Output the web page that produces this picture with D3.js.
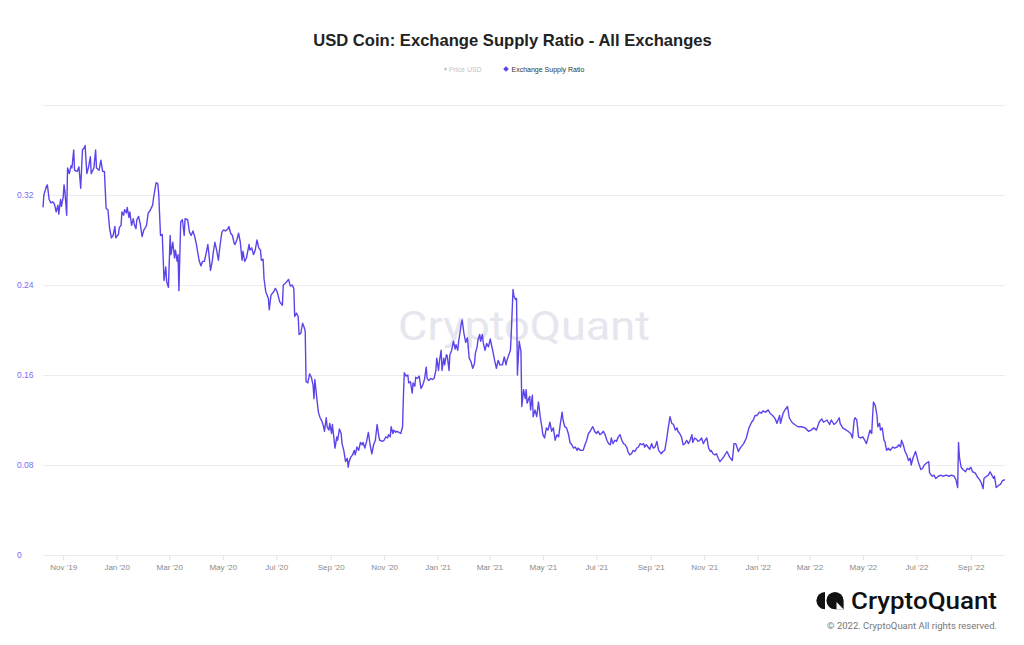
<!DOCTYPE html>
<html>
<head>
<meta charset="utf-8">
<script src="https://cdn.jsdelivr.net/npm/d3@7"></script>
<style>
  html, body { margin: 0; padding: 0; background: #ffffff; }
  svg { display: block; }
</style>
</head>
<body>
<svg id="chart" width="1024" height="645"></svg>
<script>
const title = "USD Coin: Exchange Supply Ratio - All Exchanges";
const legendLabels = ["Price USD", "Exchange Supply Ratio"];
const yTickValues = [0, 0.08, 0.16, 0.24, 0.32];
const yGridValues = [0, 0.08, 0.16, 0.24, 0.32, 0.40];
const yDomain = [0, 0.40];

const dates = [
"2019-10-09","2019-10-10","2019-10-13","2019-10-14","2019-10-16","2019-10-18","2019-10-20","2019-10-22","2019-10-24","2019-10-26","2019-10-27","2019-10-29","2019-10-30","2019-11-01","2019-11-02","2019-11-03","2019-11-05","2019-11-06","2019-11-08","2019-11-10","2019-11-11","2019-11-13","2019-11-14","2019-11-17","2019-11-19","2019-11-21","2019-11-23","2019-11-25","2019-11-26","2019-11-28","2019-11-30","2019-12-02","2019-12-03","2019-12-06","2019-12-08","2019-12-09","2019-12-12","2019-12-14","2019-12-16","2019-12-18","2019-12-20","2019-12-22","2019-12-24","2019-12-26","2019-12-28","2019-12-30","2019-12-31",
"2020-01-03","2020-01-04","2020-01-06","2020-01-07","2020-01-09","2020-01-10","2020-01-12","2020-01-13","2020-01-15","2020-01-16","2020-01-18","2020-01-20","2020-01-21","2020-01-23","2020-01-24","2020-01-26","2020-01-28","2020-01-30","2020-02-01","2020-02-02","2020-02-04","2020-02-06","2020-02-08","2020-02-11","2020-02-12","2020-02-13","2020-02-15","2020-02-17","2020-02-18","2020-02-20","2020-02-22","2020-02-24","2020-02-26","2020-02-27","2020-02-29",
"2020-03-02","2020-03-03","2020-03-05","2020-03-07","2020-03-08","2020-03-10","2020-03-11","2020-03-12","2020-03-14","2020-03-16","2020-03-18","2020-03-19","2020-03-22","2020-03-24","2020-03-26","2020-03-28","2020-03-30","2020-04-01","2020-04-02","2020-04-04","2020-04-06","2020-04-08","2020-04-10","2020-04-12","2020-04-14","2020-04-15","2020-04-17","2020-04-19","2020-04-20","2020-04-22","2020-04-24","2020-04-26","2020-04-28","2020-04-30",
"2020-05-02","2020-05-04","2020-05-07","2020-05-08","2020-05-10","2020-05-12","2020-05-14","2020-05-15","2020-05-17","2020-05-19","2020-05-21","2020-05-23","2020-05-24","2020-05-26","2020-05-28","2020-05-31","2020-06-01","2020-06-03","2020-06-05","2020-06-07","2020-06-09","2020-06-11","2020-06-13","2020-06-14","2020-06-16","2020-06-17","2020-06-19","2020-06-20","2020-06-22","2020-06-23","2020-06-25","2020-06-28","2020-06-30","2020-07-02",
"2020-07-05","2020-07-08","2020-07-09","2020-07-12","2020-07-15","2020-07-17","2020-07-19","2020-07-21","2020-07-22","2020-07-24","2020-07-26","2020-07-27","2020-07-29","2020-07-31","2020-08-02","2020-08-03","2020-08-04","2020-08-06","2020-08-08","2020-08-10","2020-08-12","2020-08-13","2020-08-14","2020-08-16","2020-08-18","2020-08-20","2020-08-22","2020-08-24","2020-08-25","2020-08-27","2020-08-28","2020-08-30","2020-08-31",
"2020-09-02","2020-09-03","2020-09-05","2020-09-06","2020-09-08","2020-09-09","2020-09-11","2020-09-13","2020-09-14","2020-09-16","2020-09-18","2020-09-20","2020-09-21","2020-09-22","2020-09-24","2020-09-26","2020-09-28","2020-09-29","2020-10-01","2020-10-03","2020-10-05","2020-10-07","2020-10-08","2020-10-10","2020-10-12","2020-10-14","2020-10-16","2020-10-18","2020-10-20","2020-10-22","2020-10-24","2020-10-26","2020-10-27","2020-10-30",
"2020-11-01","2020-11-03","2020-11-05","2020-11-06","2020-11-08","2020-11-09","2020-11-11","2020-11-12","2020-11-14","2020-11-15","2020-11-18","2020-11-20","2020-11-22","2020-11-23","2020-11-24","2020-11-26","2020-11-28","2020-11-29","2020-12-01","2020-12-03","2020-12-04","2020-12-06","2020-12-07","2020-12-09","2020-12-11","2020-12-13","2020-12-15","2020-12-17","2020-12-19","2020-12-20","2020-12-22","2020-12-24","2020-12-26","2020-12-28","2020-12-30","2020-12-31",
"2021-01-02","2021-01-03","2021-01-05","2021-01-06","2021-01-08","2021-01-09","2021-01-11","2021-01-12","2021-01-14","2021-01-15","2021-01-17","2021-01-19","2021-01-21","2021-01-22","2021-01-24","2021-01-25","2021-01-27","2021-01-28","2021-01-29","2021-01-31","2021-02-02","2021-02-04","2021-02-06","2021-02-08","2021-02-10","2021-02-12","2021-02-13","2021-02-15","2021-02-16","2021-02-18","2021-02-19","2021-02-21","2021-02-22","2021-02-24","2021-02-26","2021-02-28",
"2021-03-02","2021-03-05","2021-03-07","2021-03-09","2021-03-11","2021-03-13","2021-03-16","2021-03-18","2021-03-20","2021-03-21","2021-03-25","2021-03-26","2021-03-28","2021-03-29","2021-03-31","2021-04-01","2021-04-02","2021-04-04","2021-04-06","2021-04-07","2021-04-09","2021-04-11","2021-04-12","2021-04-13","2021-04-16","2021-04-17","2021-04-19","2021-04-20","2021-04-22","2021-04-24","2021-04-26","2021-04-28","2021-04-30",
"2021-05-01","2021-05-03","2021-05-05","2021-05-07","2021-05-09","2021-05-11","2021-05-13","2021-05-15","2021-05-17","2021-05-19","2021-05-21","2021-05-23","2021-05-24","2021-05-26","2021-05-28","2021-05-30","2021-06-01","2021-06-03","2021-06-05","2021-06-07","2021-06-09","2021-06-10","2021-06-13","2021-06-16","2021-06-18","2021-06-20","2021-06-22","2021-06-24","2021-06-26","2021-06-27","2021-06-29",
"2021-07-01","2021-07-03","2021-07-05","2021-07-07","2021-07-09","2021-07-11","2021-07-13","2021-07-15","2021-07-17","2021-07-18","2021-07-20","2021-07-22","2021-07-24","2021-07-26","2021-07-28","2021-07-30","2021-08-01","2021-08-03","2021-08-05","2021-08-06","2021-08-08","2021-08-10","2021-08-12","2021-08-14","2021-08-16","2021-08-18","2021-08-20","2021-08-22","2021-08-24","2021-08-25","2021-08-27","2021-08-29","2021-08-31",
"2021-09-02","2021-09-04","2021-09-06","2021-09-08","2021-09-10","2021-09-12","2021-09-13","2021-09-15","2021-09-17","2021-09-19","2021-09-21","2021-09-23","2021-09-25","2021-09-27","2021-09-29","2021-10-01","2021-10-02","2021-10-04","2021-10-06","2021-10-08","2021-10-10","2021-10-12","2021-10-14","2021-10-16","2021-10-18","2021-10-19","2021-10-21","2021-10-23","2021-10-25","2021-10-27","2021-10-29","2021-10-31",
"2021-11-02","2021-11-04","2021-11-06","2021-11-08","2021-11-09","2021-11-11","2021-11-13","2021-11-15","2021-11-17","2021-11-19","2021-11-23","2021-11-27","2021-11-30","2021-12-03","2021-12-05","2021-12-07","2021-12-10","2021-12-12","2021-12-16","2021-12-19","2021-12-22","2021-12-25","2021-12-27","2021-12-29","2021-12-31",
"2022-01-03","2022-01-05","2022-01-07","2022-01-10","2022-01-13","2022-01-15","2022-01-18","2022-01-21","2022-01-23","2022-01-26","2022-01-27","2022-01-30","2022-02-01","2022-02-04","2022-02-06","2022-02-09","2022-02-12","2022-02-16","2022-02-20","2022-02-24","2022-02-28","2022-03-03","2022-03-06","2022-03-09","2022-03-12","2022-03-15","2022-03-17","2022-03-21","2022-03-24","2022-03-26","2022-03-29",
"2022-04-01","2022-04-04","2022-04-05","2022-04-08","2022-04-12","2022-04-14","2022-04-17","2022-04-19","2022-04-21","2022-04-22","2022-04-24","2022-04-26","2022-04-28","2022-05-01","2022-05-03","2022-05-05","2022-05-07","2022-05-09","2022-05-11","2022-05-12","2022-05-13","2022-05-15","2022-05-17","2022-05-18","2022-05-20","2022-05-21","2022-05-23","2022-05-25","2022-05-26","2022-05-28","2022-05-30",
"2022-06-01","2022-06-04","2022-06-06","2022-06-09","2022-06-11","2022-06-13","2022-06-14","2022-06-16","2022-06-18","2022-06-20","2022-06-22","2022-06-24","2022-06-25","2022-06-27","2022-06-30","2022-07-01","2022-07-03","2022-07-06","2022-07-08","2022-07-10","2022-07-13","2022-07-15","2022-07-16","2022-07-19","2022-07-21","2022-07-23","2022-07-26","2022-07-29","2022-07-31",
"2022-08-04","2022-08-07","2022-08-10","2022-08-13","2022-08-15","2022-08-17","2022-08-18","2022-08-19","2022-08-21","2022-08-23","2022-08-26","2022-08-28","2022-08-30","2022-09-01","2022-09-03","2022-09-06","2022-09-08","2022-09-11","2022-09-13","2022-09-15","2022-09-16","2022-09-19","2022-09-21","2022-09-23","2022-09-25","2022-09-27","2022-09-28","2022-09-30","2022-10-03","2022-10-05","2022-10-07","2022-10-10"
];

const ratio = [
.309,.320,.328,.329,.316,.313,.314,.312,.305,.311,.303,.316,.310,.318,.329,.323,.302,.344,.339,.346,.344,.360,.342,.341,.345,.326,.360,.362,.364,.339,.345,.354,.339,.344,.360,.344,.342,.351,.341,.341,.308,.307,.290,.282,.284,.292,.282,
.285,.291,.293,.305,.302,.307,.304,.309,.300,.305,.293,.299,.294,.290,.298,.301,.294,.283,.289,.290,.293,.304,.306,.311,.317,.322,.331,.330,.320,.284,.285,.244,.256,.243,.238,
.284,.267,.278,.264,.271,.261,.267,.235,.296,.298,.284,.299,.298,.287,.284,.288,.283,.276,.271,.262,.257,.261,.261,.268,.276,.269,.253,.261,.268,.278,.271,.262,.276,.287,
.289,.288,.290,.292,.286,.284,.277,.276,.280,.286,.278,.262,.270,.261,.264,.276,.271,.273,.267,.271,.280,.273,.271,.262,.263,.246,.234,.232,.228,.218,.231,.234,.237,.234,
.225,.222,.240,.242,.245,.239,.240,.237,.212,.215,.212,.196,.197,.206,.202,.199,.154,.153,.161,.158,.151,.139,.156,.141,.127,.122,.119,.114,.110,.122,.114,.111,.117,
.108,.116,.102,.095,.105,.102,.112,.108,.099,.093,.083,.086,.078,.083,.087,.089,.093,.089,.096,.093,.100,.098,.100,.095,.101,.109,.098,.090,.098,.102,.116,.105,.102,.101,
.102,.105,.104,.107,.105,.114,.108,.111,.109,.110,.109,.108,.114,.141,.162,.159,.160,.153,.154,.144,.153,.150,.158,.157,.159,.148,.151,.156,.167,.157,.155,.157,.156,.157,.164,.175,
.164,.172,.182,.164,.175,.169,.178,.177,.164,.178,.182,.190,.183,.187,.182,.190,.200,.206,.209,.197,.189,.193,.175,.172,.166,.170,.179,.185,.191,.196,.190,.196,.189,.182,.188,.185,
.192,.181,.173,.166,.173,.169,.169,.176,.169,.173,.182,.197,.236,.230,.227,.228,.160,.190,.181,.132,.147,.139,.147,.135,.141,.129,.142,.123,.129,.123,.136,.123,.113,
.107,.104,.113,.111,.118,.110,.113,.102,.107,.105,.117,.127,.120,.114,.113,.108,.100,.098,.095,.096,.093,.095,.093,.093,.098,.102,.108,.110,.113,.114,.110,
.108,.110,.107,.108,.110,.107,.102,.099,.098,.104,.099,.102,.101,.105,.107,.102,.099,.098,.095,.092,.089,.090,.093,.092,.095,.096,.099,.098,.099,.096,.098,.096,.094,
.099,.095,.096,.101,.093,.091,.090,.092,.093,.102,.113,.123,.117,.116,.111,.113,.110,.108,.105,.098,.099,.102,.099,.102,.107,.100,.104,.103,.101,.102,.104,.099,
.102,.104,.095,.092,.093,.090,.089,.090,.086,.083,.087,.092,.087,.084,.099,.099,.092,.095,.099,.104,.113,.118,.120,.124,.124,
.127,.126,.128,.127,.129,.126,.124,.121,.117,.124,.117,.126,.129,.132,.122,.118,.116,.114,.114,.113,.110,.111,.113,.111,.118,.121,.118,.120,.116,.120,.116,
.118,.122,.117,.113,.111,.110,.108,.104,.120,.122,.120,.105,.104,.105,.102,.099,.105,.111,.108,.123,.136,.133,.124,.114,.117,.111,.113,.102,.101,.093,.095,
.093,.096,.095,.096,.098,.096,.102,.098,.092,.089,.084,.086,.080,.086,.092,.089,.083,.076,.077,.080,.082,.083,.073,.070,.071,.068,.070,.071,.070,
.071,.070,.071,.070,.067,.060,.100,.087,.078,.076,.074,.077,.076,.078,.074,.073,.070,.067,.064,.059,.068,.070,.071,.074,.071,.068,.070,.060,.062,.063,.066,.067
];

if (dates.length !== ratio.length) {
  console.error("length mismatch: dates " + dates.length + " ratio " + ratio.length);
}

const parseDate = d3.timeParse("%Y-%m-%d");
const n = Math.min(dates.length, ratio.length);
const data = d3.range(n).map(i => ({ date: parseDate(dates[i]), value: ratio[i] }));

const svg = d3.select("#chart");
const W = 1024, H = 645;
const plotLeft = 43, plotRight = 1005, plotTop = 105, plotBottom = 555;
const lineColor = "#5a45ea";
const font = "'Liberation Sans', Arial, Helvetica, sans-serif";

svg.append("rect").attr("width", W).attr("height", H).attr("fill", "#ffffff");

const x = d3.scaleTime().domain(d3.extent(data, d => d.date)).range([plotLeft, plotRight]);
const y = d3.scaleLinear().domain(yDomain).range([plotBottom, plotTop]);

// Title
svg.append("text")
  .attr("x", 512.5).attr("y", 46)
  .attr("text-anchor", "middle")
  .attr("font-family", font).attr("font-weight", "bold")
  .attr("font-size", 16.6).attr("fill", "#222")
  .text(title);

// Legend
const lg = svg.append("g").attr("font-family", font).attr("font-size", 7);
lg.append("circle").attr("cx", 445.5).attr("cy", 69).attr("r", 1.6).attr("fill", "#cccccc");
lg.append("text").attr("x", 449).attr("y", 71.5).attr("fill", "#c4c4c4").text(legendLabels[0]);
lg.append("rect").attr("x", -2).attr("y", -2).attr("width", 4).attr("height", 4)
  .attr("transform", "translate(506,69) rotate(45)").attr("fill", lineColor);
lg.append("text").attr("x", 511.5).attr("y", 71.5).attr("fill", "#333").text(legendLabels[1]);

// Gridlines
svg.append("g").selectAll("line").data(yGridValues).join("line")
  .attr("x1", plotLeft).attr("x2", plotRight)
  .attr("y1", d => y(d)).attr("y2", d => y(d))
  .attr("stroke", "#ececec").attr("stroke-width", 1)
  .attr("shape-rendering", "crispEdges");

// Watermark
svg.append("text")
  .attr("x", 524).attr("y", 340)
  .attr("text-anchor", "middle")
  .attr("font-family", "Roboto, 'Noto Sans', sans-serif")
  .attr("font-size", 40).attr("font-weight", 400)
  .attr("fill", "#e6e6ee")
  .attr("textLength", 252).attr("lengthAdjust", "spacingAndGlyphs")
  .text("CryptoQuant");

// Y axis labels
const yAxis = d3.axisLeft(y).tickValues(yTickValues).tickSize(0).tickPadding(0)
  .tickFormat(d => d === 0 ? "0" : d3.format(".2f")(d));
const yg = svg.append("g").attr("transform", "translate(17,0)").call(yAxis);
yg.select(".domain").remove();
yg.selectAll("text")
  .attr("text-anchor", "start").attr("x", 0)
  .attr("font-family", font).attr("font-size", 8.5).attr("fill", "#7a6cf2");

// X axis
const xAxis = d3.axisBottom(x).ticks(d3.timeMonth.every(2)).tickSize(5).tickPadding(4)
  .tickFormat(d3.timeFormat("%b '%y"));
const xg = svg.append("g").attr("transform", `translate(0,${plotBottom})`).call(xAxis);
xg.select(".domain").remove();
xg.selectAll(".tick line").attr("stroke", "#e3e3e3");
xg.selectAll("text").attr("font-family", font).attr("font-size", 8).attr("fill", "#8a8a8a");

// Line
const line = d3.line().x(d => x(d.date)).y(d => y(d.value));
svg.append("path").datum(data)
  .attr("d", line)
  .attr("fill", "none")
  .attr("stroke", lineColor)
  .attr("stroke-width", 1.4)
  .attr("stroke-linejoin", "round");

// Logo
const logo = svg.append("g");
logo.append("path")
  .attr("d", "M825,592 A8.6,8.6 0 0 0 825,609.2 Z")
  .attr("fill", "#111");
logo.append("path")
  .attr("d", "M843.6,600.6 A8.6,8.6 0 1 0 835,609.2 L843.6,609.2 Z")
  .attr("fill", "#111");
logo.append("path")
  .attr("d", "M836.5,602.1 L843.6,609.2 L836.5,609.2 Z")
  .attr("fill", "#ffffff");
logo.append("text")
  .attr("x", 851).attr("y", 609)
  .attr("font-family", "Roboto, 'Noto Sans', sans-serif").attr("font-weight", 500)
  .attr("font-size", 23).attr("fill", "#111")
  .attr("textLength", 146).attr("lengthAdjust", "spacingAndGlyphs")
  .text("CryptoQuant");
svg.append("text")
  .attr("x", 997).attr("y", 629)
  .attr("text-anchor", "end")
  .attr("font-family", "Roboto, 'Noto Sans', sans-serif")
  .attr("font-size", 9.5).attr("fill", "#777")
  .text("© 2022. CryptoQuant All rights reserved.");
</script>
</body>
</html>
